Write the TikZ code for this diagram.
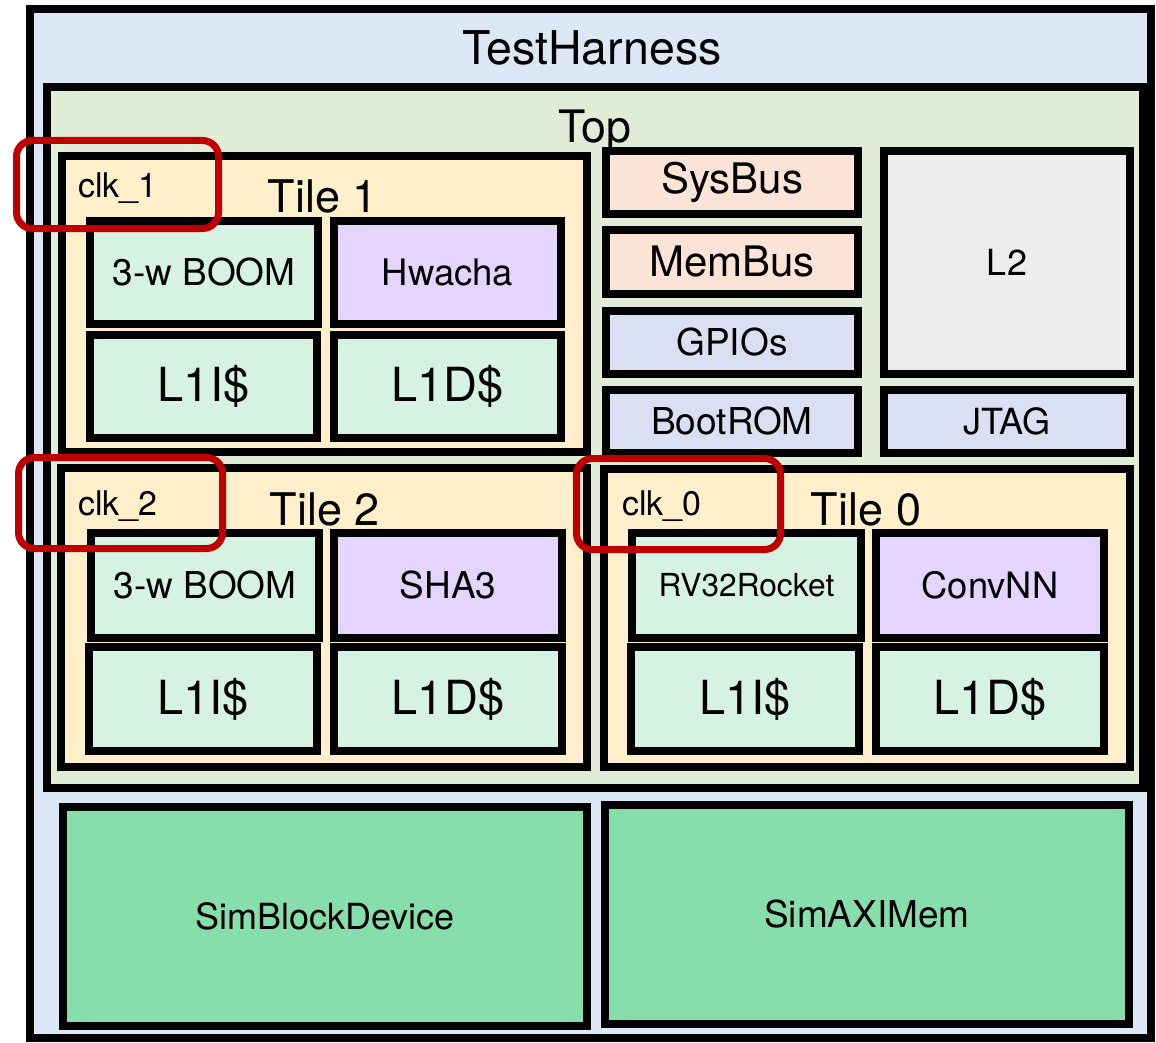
\documentclass[tikz,border=0pt]{standalone}
\usepackage{fontspec}
\setmainfont{TeX Gyre Heros}
\definecolor{thfill}{HTML}{DCE8F5}
\definecolor{topfill}{HTML}{E1EDD7}
\definecolor{tilefill}{HTML}{FFF0CB}
\definecolor{corefill}{HTML}{D5F2E2}
\definecolor{accfill}{HTML}{E4D4FE}
\definecolor{busfill}{HTML}{FBE3D6}
\definecolor{perfill}{HTML}{DAE0F2}
\definecolor{ltwofill}{HTML}{EDEDED}
\definecolor{simfill}{HTML}{86DEAA}
\definecolor{clkred}{HTML}{C00000}
\newcommand\fs[1]{\fontsize{#1}{#1}\selectfont}
\newcommand\bx[8]{%
 \pgfmathsetmacro\bxw{#4-#2-8}\pgfmathsetmacro\bxh{#5-#3-8}%
 \pgfmathsetmacro\bxcx{(#2+#4)/2}\pgfmathsetmacro\bxcy{(#3+#5)/2}%
 \node[blk, fill=#6, minimum width=\bxw pt, minimum height=\bxh pt, font=\fs{#7}] (#1) at (\bxcx,\bxcy) {#8};}
\newcommand\ck[5]{%
 \pgfmathsetmacro\bxw{#4-#2-7}\pgfmathsetmacro\bxh{#5-#3-7}%
 \pgfmathsetmacro\bxcx{(#2+#4)/2}\pgfmathsetmacro\bxcy{(#3+#5)/2}%
 \node[clkbox, minimum width=\bxw pt, minimum height=\bxh pt] (#1) at (\bxcx,\bxcy) {};}
\tikzset{
 blk/.style={draw=black, line width=8pt, inner sep=0pt, outer sep=0pt, text=black},
 clkbox/.style={draw=clkred, line width=7pt, rounded corners=16pt, inner sep=0pt, outer sep=0pt},
 ttl/.style={inner sep=0pt, anchor=base, text=black},
 clklbl/.style={inner sep=0pt, anchor=base west, text=black},
}
\begin{document}
\begin{tikzpicture}[x=1pt,y=-1pt]
\useasboundingbox (0,0) rectangle (1156,1043);
% containers
\bx{th}{26}{5}{1155}{1042}{thfill}{10}{}
\bx{top}{43}{83}{1147}{792}{topfill}{10}{}
\bx{tileone}{58}{152}{591}{456}{tilefill}{10}{}
\bx{tiletwo}{57}{464}{591}{771}{tilefill}{10}{}
\bx{tilezero}{600}{465}{1134}{771}{tilefill}{10}{}
% tile 1
\bx{boomone}{86}{217}{322}{328}{corefill}{37}{3-w BOOM}
\bx{hwacha}{330}{217}{565}{328}{accfill}{36.5}{Hwacha}
\bx{lIione}{86}{331}{321}{442}{corefill}{47}{L1I\$}
\bx{lDone}{330}{331}{565}{442}{corefill}{47}{L1D\$}
% bus column
\bx{sysbus}{602}{147}{862}{218}{busfill}{42}{SysBus}
\bx{membus}{602}{226}{862}{298}{busfill}{42}{MemBus}
\bx{gpios}{602}{307}{862}{378}{perfill}{37}{GPIOs}
\bx{bootrom}{602}{386}{862}{457}{perfill}{37}{BootROM}
\bx{ltwo}{880}{147}{1134}{378}{ltwofill}{36}{L2}
\bx{jtag}{880}{386}{1134}{457}{perfill}{36}{JTAG}
% tile 2
\bx{boomtwo}{87}{529}{323}{642}{corefill}{37}{3-w BOOM}
\bx{shathree}{330}{529}{566}{642}{accfill}{37}{SHA3}
\bx{lItwo}{85}{643}{321}{755}{corefill}{47}{L1I\$}
\bx{lDtwo}{330}{643}{566}{755}{corefill}{47}{L1D\$}
% tile 0
\bx{rocket}{628}{529}{865}{642}{corefill}{31.7}{RV32Rocket}
\bx{convnn}{872}{529}{1108}{642}{accfill}{36.3}{ConvNN}
\bx{lIzero}{627}{643}{863}{755}{corefill}{47}{L1I\$}
\bx{lDzero}{872}{643}{1108}{755}{corefill}{47}{L1D\$}
% sim blocks
\bx{simblk}{59}{803}{591}{1030}{simfill}{36}{SimBlockDevice}
\bx{simaxi}{601}{801}{1133}{1028}{simfill}{37}{SimAXIMem}
% titles
\node[ttl, font=\fs{46.5}] (thlbl) at (592,65) {TestHarness};
\node[ttl, font=\fs{44.7}] (toplbl) at (595,143) {Top};
\node[ttl, font=\fs{45}] (tileonelbl) at (323,212) {Tile 1};
\node[ttl, font=\fs{45}] (tiletwolbl) at (325,525) {Tile 2};
\node[ttl, font=\fs{45}] (tilezerolbl) at (866,525) {Tile 0};
\node[clklbl, font=\fs{34}] (clkonelbl) at (78,197) {clk\_1};
\node[clklbl, font=\fs{34}] (clktwolbl) at (78,515) {clk\_2};
\node[clklbl, font=\fs{34}] (clkzerolbl) at (622,515) {clk\_0};
% clock domain highlights
\ck{clkone}{13}{137}{222}{232}
\ck{clktwo}{15}{454}{226}{552}
\ck{clkzero}{573}{455}{784}{553}
\end{tikzpicture}
\end{document}
